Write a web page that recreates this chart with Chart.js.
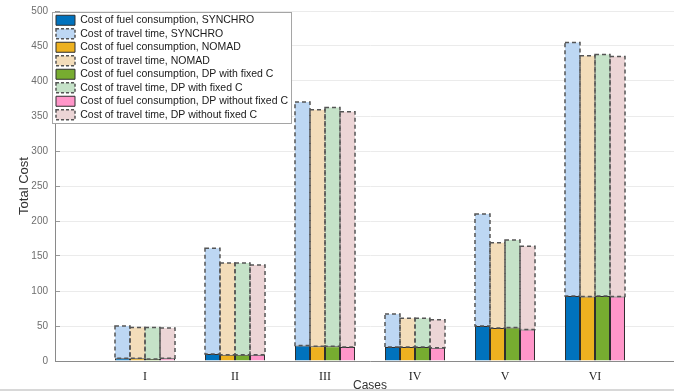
<!DOCTYPE html>
<html>
<head>
<meta charset="utf-8">
<script src="https://cdn.jsdelivr.net/npm/chart.js@4.4.0/dist/chart.umd.min.js"></script>
<style>
  html, body { margin: 0; padding: 0; background: #fff; overflow: hidden; }
  #wrap { position: relative; width: 674px; height: 392px; overflow: hidden; }
  #edge { position: absolute; left: 0; top: 389px; width: 674px; height: 2px; background: #d8d8d8; }
</style>
</head>
<body>
<div id="wrap">
  <canvas id="costChart" width="700" height="392"></canvas>
  <div id="edge"></div>
</div>
<script>
const cases = ['I', 'II', 'III', 'IV', 'V', 'VI'];

// fuel cost (solid part) and travel time cost (dashed part stacked on top)
const fuelSynchro = [4, 10, 22, 20, 50, 93];
const travelSynchro = [46, 151, 348, 47, 160, 362];
const fuelNomad = [4, 9, 21, 20, 47, 92];
const travelNomad = [44, 131, 338, 41, 122, 344];
const fuelDpFixed = [3, 9, 21, 20, 48, 93];
const travelDpFixed = [45, 131, 341, 41, 125, 345];
const fuelDpFree = [4, 9, 20, 19, 45, 92];
const travelDpFree = [43, 128, 336, 40, 119, 343];

const yTicks = [0, 50, 100, 150, 200, 250, 300, 350, 400, 450, 500];

const methods = [
    { name: 'SYNCHRO', stack: 's', fuel: fuelSynchro, travel: travelSynchro },
    { name: 'NOMAD', stack: 'n', fuel: fuelNomad, travel: travelNomad },
    { name: 'DP with fixed C', stack: 'dpf', fuel: fuelDpFixed, travel: travelDpFixed },
    { name: 'DP without fixed C', stack: 'dpw', fuel: fuelDpFree, travel: travelDpFree }
];
const darkColors = ['#0072BD', '#EDB120', '#77AC30', '#FF96C9'];
const lightColors = ['#BDD7F3', '#F3DDBA', '#C5E2C8', '#ECD5D6'];

// empty slot on each side so the axis runs from 0 to 7 like the original
const labels = ['', ...cases, ''];
const pad = arr => [null, ...arr, null];

const datasets = [];
methods.forEach((m, i) => {
    datasets.push({
        label: 'Cost of fuel consumption, ' + m.name,
        data: pad(m.fuel),
        stack: m.stack,
        backgroundColor: darkColors[i],
        borderColor: '#2e2e2e',
        borderWidth: 1
    });
    datasets.push({
        label: 'Cost of travel time, ' + m.name,
        data: pad(m.travel),
        stack: m.stack,
        backgroundColor: lightColors[i],
        borderWidth: 0,
        dashed: true
    });
});

const outlinePlugin = {
    id: 'outlinePlugin',
    afterLayout(chart) {
        // pin the legend to the top-left corner of the plot
        const lg = chart.legend;
        const w = lg.right - lg.left;
        const h = lg.bottom - lg.top;
        lg.left = chart.chartArea.left - 2;
        lg.right = lg.left + w;
        lg.top = chart.chartArea.top + 1;
        lg.bottom = lg.top + h;
    },
    afterDatasetsDraw(chart) {
        const ctx = chart.ctx;
        ctx.save();
        ctx.strokeStyle = '#555';
        ctx.lineWidth = 1.5;
        ctx.setLineDash([4, 3]);
        chart.data.datasets.forEach((ds, i) => {
            if (!ds.dashed) return;
            chart.getDatasetMeta(i).data.forEach((bar, j) => {
                if (ds.data[j] == null) return;
                const p = bar.getProps(['x', 'y', 'base', 'width'], true);
                ctx.strokeRect(p.x - p.width / 2, p.y, p.width, p.base - p.y);
            });
        });
        ctx.restore();
    },
    afterDraw(chart) {
        const lg = chart.legend;
        const hb = lg.legendHitBoxes;
        if (!hb || !hb.length) return;
        const left = Math.min(...hb.map(b => b.left)) - 4;
        const top = Math.min(...hb.map(b => b.top)) - 3;
        const right = Math.max(...hb.map(b => b.left + b.width)) + 3;
        const bottom = Math.max(...hb.map(b => b.top + b.height)) + 3;
        const ctx = chart.ctx;
        ctx.save();
        ctx.fillStyle = '#fff';
        ctx.fillRect(left, top, right - left, bottom - top);
        ctx.strokeStyle = '#a5a5a5';
        ctx.lineWidth = 1;
        ctx.strokeRect(left + 0.5, top + 0.5, right - left, bottom - top);
        ctx.restore();
        lg.draw();
    }
};

Chart.defaults.font.family = '"Liberation Sans", Arial, sans-serif';

new Chart(document.getElementById('costChart').getContext('2d'), {
    type: 'bar',
    data: { labels: labels, datasets: datasets },
    plugins: [outlinePlugin],
    options: {
        responsive: false,
        animation: false,
        categoryPercentage: 0.667,
        barPercentage: 1,
        layout: { padding: { top: 11, right: 15, left: 0, bottom: 0 } },
        plugins: {
            tooltip: { enabled: false },
            legend: {
                position: 'chartArea',
                align: 'start',
                labels: {
                    boxWidth: 19,
                    boxHeight: 10,
                    padding: 3,
                    color: '#1a1a1a',
                    font: { size: 10.5 },
                    generateLabels(chart) {
                        const items = Chart.defaults.plugins.legend.labels.generateLabels(chart);
                        items.forEach(it => {
                            const ds = chart.data.datasets[it.datasetIndex];
                            if (ds.dashed) {
                                it.lineDash = [3, 2];
                                it.strokeStyle = '#555';
                                it.lineWidth = 1.5;
                            } else {
                                it.lineDash = [];
                                it.strokeStyle = '#2e2e2e';
                                it.lineWidth = 1;
                            }
                        });
                        return items;
                    }
                }
            }
        },
        scales: {
            x: {
                stacked: true,
                offset: false,
                grid: { display: false, drawTicks: false },
                border: { display: true, color: '#8a8a8a' },
                ticks: {
                    color: '#262626',
                    autoSkip: false,
                    maxRotation: 0,
                    padding: 9,
                    font: { family: '"Liberation Serif", "Times New Roman", serif', size: 12 }
                },
                title: {
                    display: true,
                    text: 'Cases',
                    color: '#333',
                    font: { size: 12 },
                    padding: { top: 0, bottom: -1 }
                },
                afterFit(scale) { scale.height = 31; }
            },
            y: {
                stacked: true,
                min: 0,
                max: 500,
                afterBuildTicks(scale) { scale.ticks = yTicks.map(v => ({ value: v })); },
                grid: { color: '#ebebeb', tickColor: '#9a9a9a', tickLength: -5 },
                border: { display: true, color: '#8a8a8a' },
                ticks: { color: '#6e6e6e', padding: 12, font: { size: 10 } },
                title: {
                    display: true,
                    text: 'Total Cost',
                    color: '#333',
                    font: { size: 13 },
                    padding: { top: 17, bottom: 0 }
                },
                afterFit(scale) {
                    scale.width = 55;
                    scale.paddingTop = 0;
                    scale.paddingBottom = 0;
                }
            }
        }
    }
});
</script>
</body>
</html>
